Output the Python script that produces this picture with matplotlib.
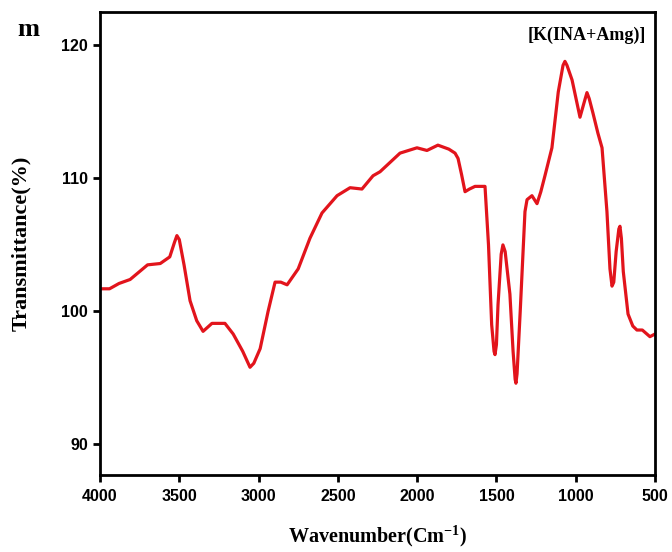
import matplotlib.pyplot as plt

plt.rcParams['mathtext.default'] = 'regular'

# FTIR spectrum values
wavenumber = [4000, 3940, 3880, 3810, 3750, 3700, 3620, 3560, 3530, 3515, 3500,
              3470, 3432, 3390, 3350, 3294, 3212, 3160, 3100, 3054, 3030, 2990,
              2940, 2896, 2860, 2820, 2750, 2676, 2600, 2505, 2423, 2348,
              2278, 2234, 2171, 2108, 2001, 1938, 1869, 1800, 1761, 1742,
              1720, 1698, 1670, 1635, 1572, 1550, 1530, 1515, 1509, 1500, 1490, 1470,
              1459, 1445, 1415, 1395, 1382, 1377, 1370, 1350, 1320, 1307, 1276, 1244,
              1220, 1194, 1150, 1110, 1080, 1068, 1055, 1023, 973, 940, 929, 915, 891, 860,
              834, 803, 784, 771, 760, 745, 728, 721, 712, 700, 670, 640, 614, 580, 532, 500]
transmittance = [101.7, 101.7, 102.1, 102.4, 103.0, 103.5, 103.6, 104.1, 105.2, 105.7, 105.4,
                 103.5, 100.8, 99.3, 98.5, 99.1, 99.1, 98.3, 97.0, 95.8, 96.1, 97.2,
                 100.0, 102.2, 102.2, 102.0, 103.2, 105.5, 107.4, 108.7, 109.3, 109.2,
                 110.2, 110.5, 111.2, 111.9, 112.3, 112.1, 112.5, 112.2, 111.9, 111.5,
                 110.3, 109.0, 109.2, 109.4, 109.4, 105.0, 99.0, 97.0, 96.75, 97.5, 100.5, 104.3,
                 105.0, 104.5, 101.3, 97.0, 94.9, 94.6, 95.3, 100.0, 107.5, 108.4, 108.7, 108.1,
                 109.0, 110.2, 112.3, 116.5, 118.5, 118.8, 118.5, 117.4, 114.6, 116.0, 116.45, 116.0, 114.9, 113.4,
                 112.3, 107.5, 103.2, 101.9, 102.2, 104.5, 106.2, 106.4, 105.5, 103.0, 99.8, 98.9, 98.6, 98.6, 98.1, 98.3]

x_ticks = [4000, 3500, 3000, 2500, 2000, 1500, 1000, 500]
y_ticks = [90, 100, 110, 120]

fig = plt.figure(figsize=(6.72, 5.52), dpi=100)
ax = fig.add_axes([0.1488, 0.1395, 0.8259, 0.8385])

ax.plot(wavenumber, transmittance, color='#e2141c', lw=2.3,
        solid_joinstyle='round', solid_capstyle='round')

ax.set_xlim(4000, 500)
ax.set_ylim(87.7, 122.5)
ax.set_xticks(x_ticks)
ax.set_yticks(y_ticks)
ax.tick_params(direction='out', length=5, width=2, labelsize=11.5,
               top=False, right=False)
ax.tick_params(axis='x', pad=5)
for lab in ax.get_xticklabels() + ax.get_yticklabels():
    lab.set_fontfamily('Liberation Sans')
    lab.set_fontweight('bold')
for s in ax.spines.values():
    s.set_linewidth(2)

serif = dict(family='Liberation Serif', weight='bold')
ax.set_xlabel('Wavenumber(Cm$^{-1}$)', fontsize=14.5, labelpad=14, **serif)
ax.set_ylabel('Transmittance(%)', fontsize=16, labelpad=22, **serif)

fig.text(28 / 672, 1 - 30 / 552, 'm', fontsize=19, ha='center', va='center', **serif)
ax.text(0.983, 0.95, '[K(INA+Amg)]', transform=ax.transAxes, fontsize=13,
        ha='right', va='center', **serif)

fig.savefig('out.png', dpi=100)
